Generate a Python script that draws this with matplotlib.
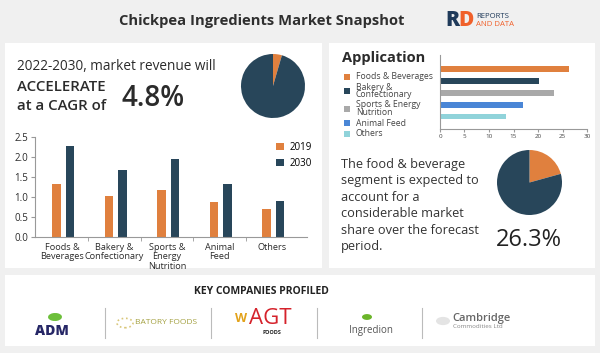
import matplotlib
matplotlib.use("Agg")
import matplotlib.pyplot as plt
from matplotlib.patches import Rectangle, Circle, Ellipse
import numpy as np

# ---- data ----
categories = ["Foods &\nBeverages", "Bakery &\nConfectionary", "Sports &\nEnergy\nNutrition",
              "Animal\nFeed", "Others"]
rev_2019 = [1.32, 1.03, 1.17, 0.87, 0.70]
rev_2030 = [2.28, 1.68, 1.95, 1.32, 0.90]
years = ["2019", "2030"]

cagr_share = [4.5, 95.5]          # top pie (orange, dark)
food_share = [20.7, 79.3]         # right pie (orange, dark)

app_labels = ["Foods & Beverages", "Bakery &\nConfectionary", "Sports & Energy\nNutrition",
              "Animal Feed", "Others"]
app_values = [26.4, 20.3, 23.2, 16.9, 13.4]

companies = ["ADM", "BATORY FOODS", "AGT", "Ingredion", "Cambridge"]

ORANGE = "#e0803e"
DARK = "#28465a"
app_colors = [ORANGE, DARK, "#a9a9a9", "#4a86d6", "#90d3da"]
TXT = "#2b2b2b"

plt.rcParams['font.family'] = ['Open Sans', 'DejaVu Sans']

W, H = 600, 353
fig = plt.figure(figsize=(6, 3.53), dpi=100)
fig.patch.set_facecolor("#f0f0f0")


def fx(x):
    return x / W


def fy(y):
    return 1 - y / H


def box(x0, y0, x1, y1):
    # axes rectangle from pixel corners (top-left origin)
    return [fx(x0), fy(y1), (x1 - x0) / W, (y1 - y0) / H]


def txt(x, y, s, **kw):
    kw.setdefault("color", TXT)
    kw.setdefault("va", "center")
    return fig.text(fx(x), fy(y), s, **kw)


# panels (behind the axes)
for (x0, y0, x1, y1) in [(5, 43, 322, 268), (329, 43, 595, 268), (5, 275, 595, 346)]:
    fig.patches.append(Rectangle((fx(x0), fy(y1)), (x1 - x0) / W, (y1 - y0) / H,
                                 transform=fig.transFigure, facecolor="white",
                                 edgecolor="none", zorder=-5))

# title + logo
txt(262, 21, "Chickpea Ingredients Market Snapshot", ha="center", fontsize=10.6,
    fontweight="bold", color="#2f2f2f")
txt(445, 21, "R", fontsize=15, fontweight="black", color="#1f3a5a")
txt(458, 21, "D", fontsize=15, fontweight="black", color="#f0602a")
txt(476, 16.5, "REPORTS", fontsize=5.6, color="#1f3a5a")
txt(476, 25, "AND DATA", fontsize=5.6, color="#f0602a")

# ---- left panel texts ----
txt(17, 66, "2022-2030, market revenue will", fontsize=9.8)
txt(17, 87, "ACCELERATE", fontsize=10.8, fontweight="semibold")
txt(17, 106, "at a CAGR of", fontsize=10.8, fontweight="semibold")
txt(122, 98, "4.8%", fontsize=20, fontweight="semibold")

# top pie
ax_p1 = fig.add_axes(box(241, 54, 305, 118))
ax_p1.pie(cagr_share, colors=[ORANGE, DARK], startangle=90, counterclock=False)
ax_p1.set_xlim(-1, 1)
ax_p1.set_ylim(-1, 1)
ax_p1.set_aspect("equal")

# grouped bar chart
ax = fig.add_axes(box(35, 137, 307, 237))
ax.patch.set_alpha(0)
x = np.arange(len(categories))
ax.bar(x - 0.105, rev_2019, width=0.17, color=ORANGE, label=years[0])
ax.bar(x + 0.152, rev_2030, width=0.17, color=DARK, label=years[1])
ax.set_xlim(-0.514, 4.667)
ax.set_ylim(0, 2.5)
ax.set_yticks(np.arange(0, 2.51, 0.5))
ax.set_yticklabels([f"{v:.1f}" for v in np.arange(0, 2.51, 0.5)], fontsize=7, color=TXT)
ax.set_xticks(x)
ax.set_xticklabels(categories, fontsize=6.6, color=TXT, linespacing=1.08)
ax.tick_params(axis="x", length=0, pad=4)
ax.set_xticks(x[:-1] + 0.5, minor=True)
ax.tick_params(axis="x", which="minor", length=3, color="#999999")
ax.tick_params(axis="y", length=3, color="#999999", pad=2)
for s in ["top", "right"]:
    ax.spines[s].set_visible(False)
for s in ["left", "bottom"]:
    ax.spines[s].set_color("#999999")
    ax.spines[s].set_linewidth(0.8)
ax.legend(loc="upper right", bbox_to_anchor=(1.05, 1.04), frameon=False, fontsize=7,
          handlelength=0.8, handleheight=0.8, handletextpad=0.6, labelspacing=0.5)

# ---- right panel ----
txt(342, 58, "Application", fontsize=10.5, fontweight="bold")
leg_y = [76.7, 91, 108.5, 123, 133.7]
for lab, col, yy in zip(app_labels, app_colors, leg_y):
    fig.patches.append(Rectangle((fx(344), fy(yy + 3)), 6 / W, 6 / H,
                                 transform=fig.transFigure, facecolor=col,
                                 edgecolor="none"))
    txt(356, yy, lab, fontsize=6.2, color="#444444", linespacing=0.85)

axh = fig.add_axes(box(440, 55, 587, 129))
axh.patch.set_alpha(0)
yy = np.arange(len(app_values))
axh.barh(yy, app_values, height=0.5, color=app_colors)
axh.set_ylim(5.06, -1.21)
axh.set_xlim(0, 30)
axh.set_xticks(np.arange(0, 31, 5))
axh.tick_params(axis="x", labelsize=4.5, labelcolor="#444444", length=2, color="#999999", pad=1.5)
axh.set_yticks([])
for s in ["top", "right"]:
    axh.spines[s].set_visible(False)
for s in ["left", "bottom"]:
    axh.spines[s].set_color("#999999")
    axh.spines[s].set_linewidth(0.8)

txt(341, 205.5, "The food & beverage\nsegment is expected to\naccount for a\nconsiderable market\n"
    "share over the forecast\nperiod.", fontsize=9.2, linespacing=1.34, color="#333333")

ax_p2 = fig.add_axes(box(497, 150, 562, 215))
ax_p2.pie(food_share, colors=[ORANGE, DARK], startangle=90, counterclock=False)
ax_p2.set_xlim(-1, 1)
ax_p2.set_ylim(-1, 1)
ax_p2.set_aspect("equal")
txt(529, 240, "26.3%", ha="center", fontsize=17, color="#222222")

# ---- bottom panel ----
txt(261, 291, "KEY COMPANIES PROFILED", ha="center", fontsize=7.5, fontweight="bold",
    color="#222222")
for xs in [105, 211, 317, 422]:
    fig.add_artist(plt.Line2D([fx(xs), fx(xs)], [fy(308), fy(338)],
                              transform=fig.transFigure, color="#bbbbbb", lw=0.8))

# ADM
fig.add_artist(Ellipse((fx(55), fy(317)), 14 / W, 8 / H, angle=20,
                       transform=fig.transFigure, facecolor="#6cbf3a", edgecolor="none"))
txt(52, 331, companies[0], ha="center", fontsize=10, fontweight="black", color="#262766")
# Batory
fig.add_artist(Circle((fx(125), fy(323)), 8 / W, transform=fig.transFigure,
                      facecolor="none", edgecolor="#d9c77a", lw=1.2, ls=":"))
txt(166, 323, companies[1], ha="center", fontsize=6, color="#a4a142")
# AGT
txt(241, 318, "W", ha="center", fontsize=9, fontweight="bold", color="#e2a21a")
txt(270, 318, companies[2], ha="center", fontsize=16, color="#d5222b")
txt(272, 332, "FOODS", ha="center", fontsize=4, fontweight="bold", color="#222222")
# Ingredion
fig.add_artist(Circle((fx(367), fy(317)), 5 / W, transform=fig.transFigure,
                      facecolor="#6bb52a", edgecolor="none"))
txt(371, 330, companies[3], ha="center", fontsize=7, color="#555555")
# Cambridge
fig.add_artist(Circle((fx(443), fy(321)), 7 / W, transform=fig.transFigure,
                      facecolor="#e4e4e4", edgecolor="none"))
txt(452, 318, companies[4], fontsize=8, fontweight="semibold", color="#666666")
txt(453, 327, "Commodities Ltd", fontsize=4.5, color="#888888")

fig.savefig("out.png", dpi=100, facecolor=fig.get_facecolor())
